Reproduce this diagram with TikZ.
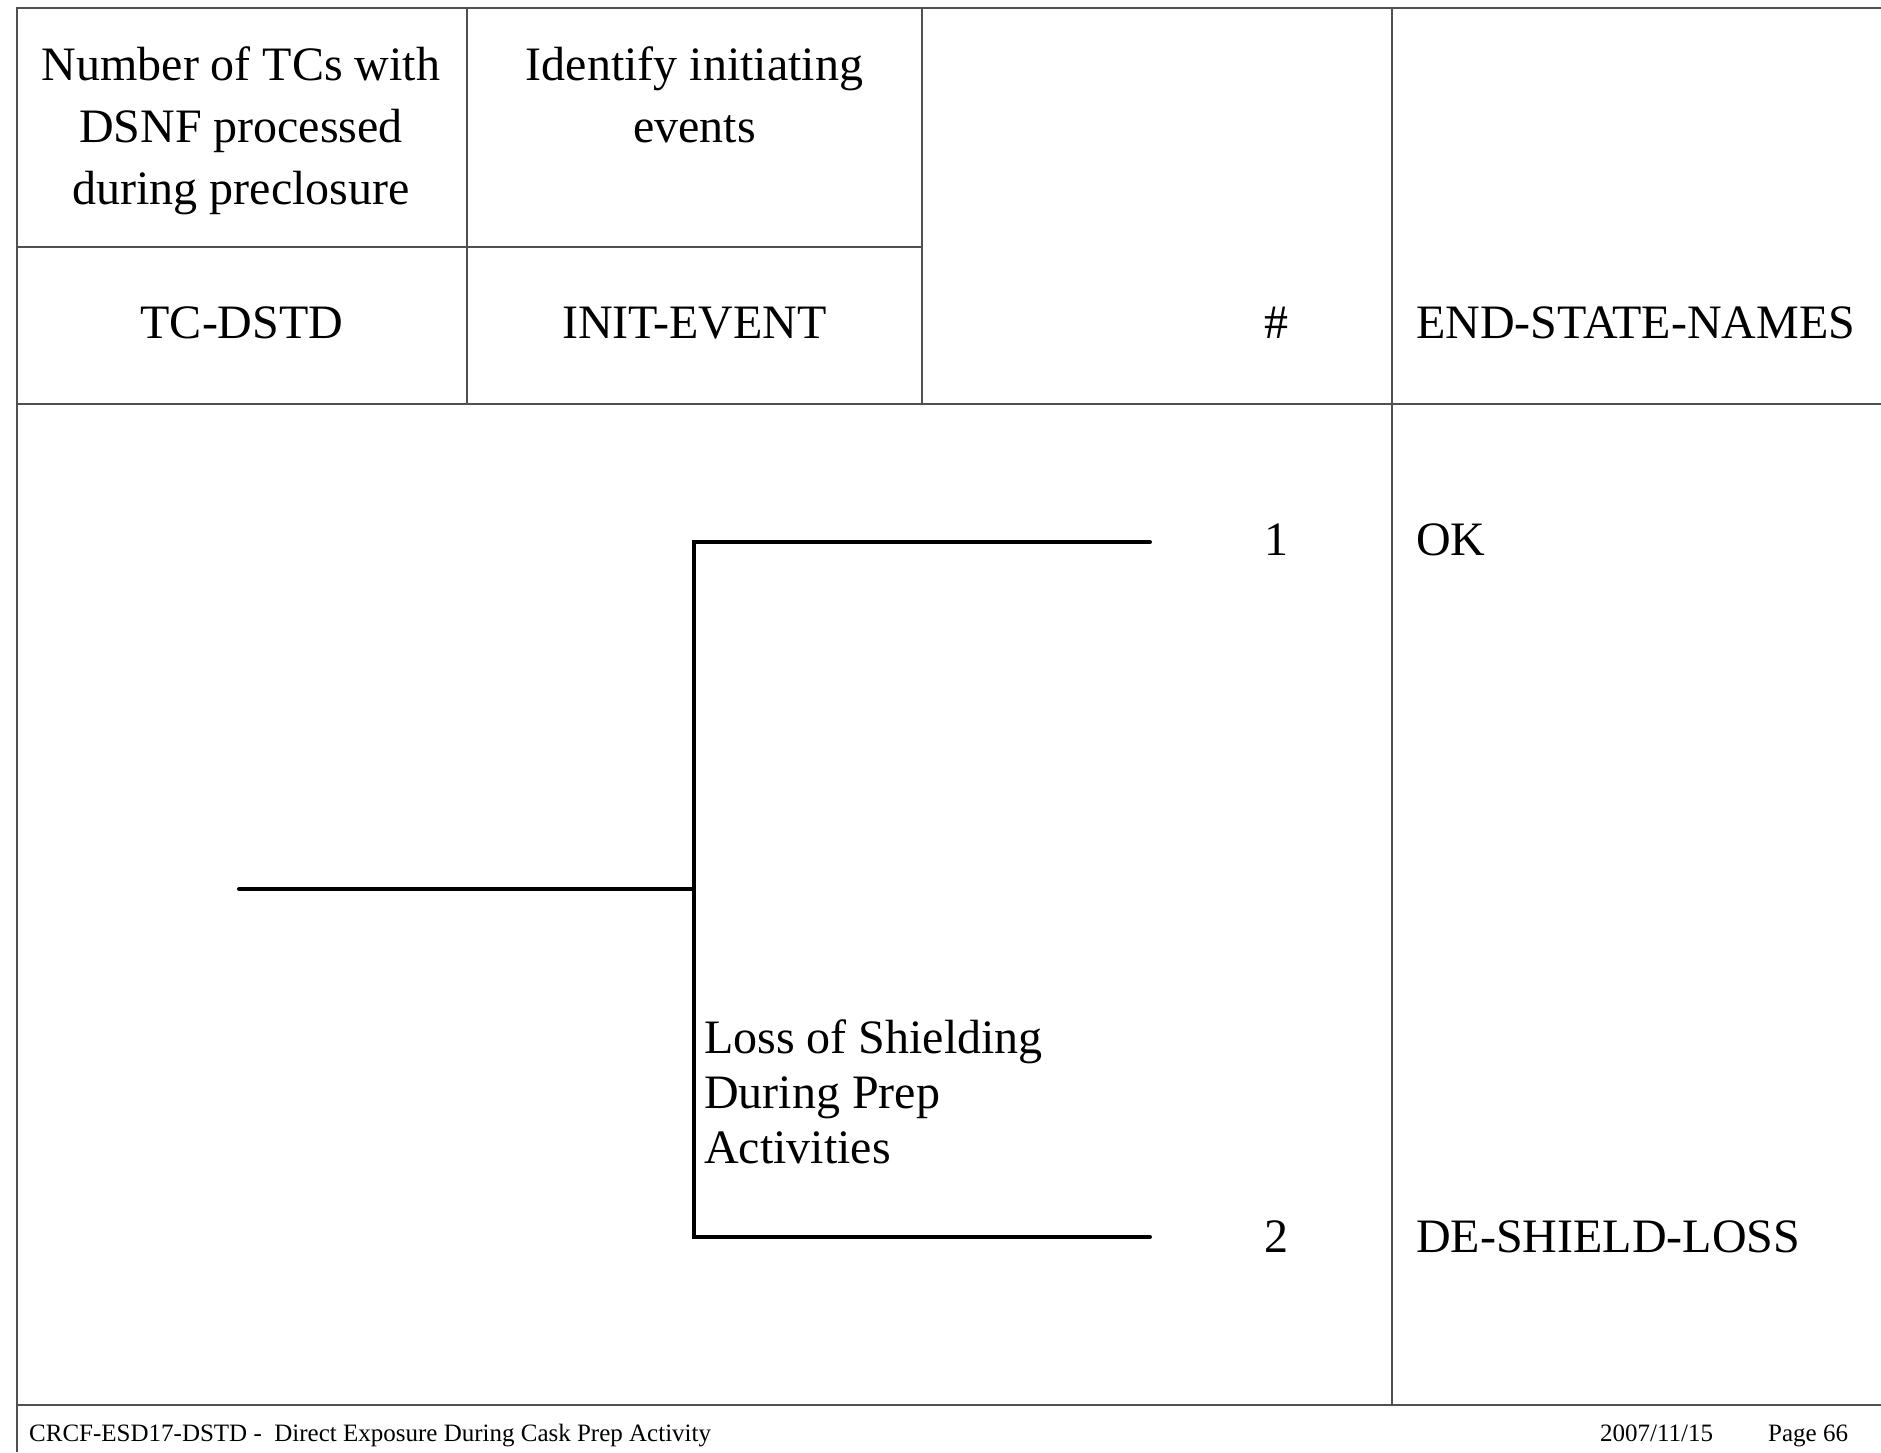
\documentclass[tikz,border=0pt]{standalone}
\usepackage{fontspec}
\setmainfont{Liberation Serif}
\usepackage{xcolor}
\usepackage{tikz}
\usetikzlibrary{positioning}
\definecolor{etgrid}{HTML}{505050}
\definecolor{etline}{HTML}{000000}

\begin{document}
\begin{tikzpicture}[x=1pt,y=-1pt,
  grid/.style={line width=2pt,color=etgrid},
  branch/.style={line width=4pt,color=etline,line cap=round},
  big/.style={font=\fontsize{48}{62}\selectfont,inner sep=0pt},
  foot/.style={font=\fontsize{25}{30}\selectfont,inner sep=0pt,anchor=base west}]
\useasboundingbox (0,0) rectangle (1881,1452);
% frame, header rows and columns
\draw[grid] (1881,8) -- (17,8) -- (17,1452);
\draw[grid] (17,404) -- (1881,404);
\draw[grid] (17,1405) -- (1881,1405);
\draw[grid] (17,247) -- (922,247);
\draw[grid] (467,8) -- (467,404);
\draw[grid] (922,8) -- (922,404);
\draw[grid] (1392,8) -- (1392,1405);
% column headings
\node[big,align=center,anchor=north] (tchead) at (241,46.5) {Number of TCs with\\DSNF processed\\during preclosure};
\node[big,align=center,anchor=north] (iehead) at (694.5,46.5) {Identify initiating\\events};
\node[big] (tccol) at (242,323) {TC-DSTD};
\node[big] (iecol) at (694.5,323) {INIT-EVENT};
\node[big] (numcol) at (1276,323) {\#};
\node[big,anchor=west] (endcol) at (1416,323) {END-STATE-NAMES};
% event tree
\coordinate (ie) at (239,889);
\coordinate (fork) at (694,889);
\coordinate (ok) at (1150,542);
\coordinate (loss) at (1150,1237);
\draw[branch] (ie) -- (fork);
\draw[branch] (ok) -- (fork |- ok) -- (fork |- loss) -- (loss);
\node[big,align=left,anchor=north west,font=\fontsize{48}{55}\selectfont] (losslbl) at (704,1019) {Loss of Shielding\\During Prep\\Activities};
% sequences and end states
\node[big] (seq1) at (1276,540) {1};
\node[big,anchor=west] (es1) at (1416,540) {OK};
\node[big] (seq2) at (1276,1237) {2};
\node[big,anchor=west] (es2) at (1416,1237) {DE-SHIELD-LOSS};
% footer
\node[foot] (ftitle) at (29,1441) {CRCF-ESD17-DSTD -\ \ Direct Exposure During Cask Prep Activity};
\node[foot] (fdate) at (1600,1441) {2007/11/15};
\node[foot] (fpage) at (1768,1441) {Page 66};
\end{tikzpicture}
\end{document}
